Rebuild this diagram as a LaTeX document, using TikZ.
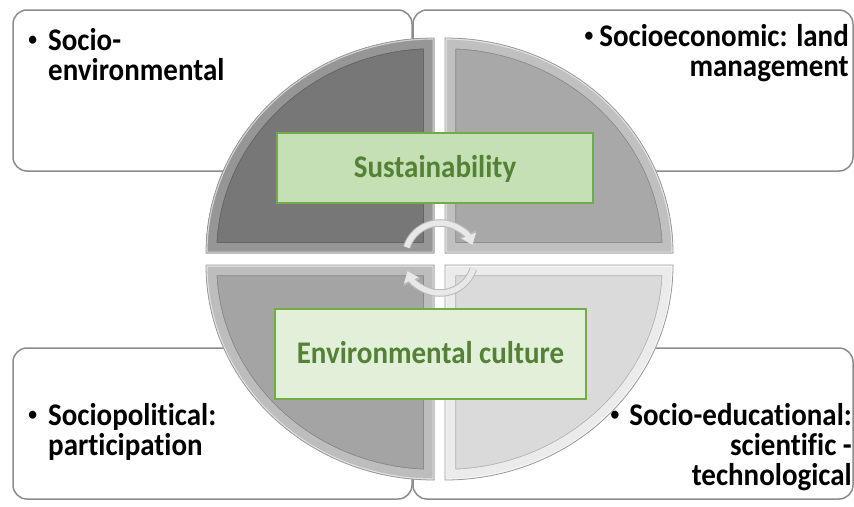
\documentclass[tikz,border=0pt]{standalone}
\usepackage{fontspec}
\setmainfont{Carlito}[FakeStretch=0.92, Ligatures=NoCommon]
\usetikzlibrary{arrows.meta}
\definecolor{boxline}{HTML}{8C8C8C}
\definecolor{grnline}{HTML}{70AD47}
\definecolor{grntext}{HTML}{538135}
\definecolor{grnA}{HTML}{C5E0B4}
\definecolor{grnB}{HTML}{E2F0D9}
\definecolor{qTL}{HTML}{777777}
\definecolor{qTLb}{HTML}{969696}
\definecolor{qTR}{HTML}{A8A8A8}
\definecolor{qTRb}{HTML}{C0C0C0}
\definecolor{qBL}{HTML}{A4A4A4}
\definecolor{qBLb}{HTML}{BDBDBD}
\definecolor{qBR}{HTML}{DADADA}
\definecolor{qBRb}{HTML}{EBEBEB}
\tikzset{
  sidebox/.style={draw=boxline, line width=1.5pt, rounded corners=14pt, fill=white},
  greenbox/.style={draw=grnline, line width=2.5pt, inner sep=0pt, text=grntext,
    font=\fontsize{31.5}{30}\selectfont\bfseries, text height=18pt, text depth=0pt},
  itemtext/.style={inner sep=0pt, font=\fontsize{31.5}{30}\selectfont\bfseries, text=black},
  cyclearrow/.style={line width=5.5pt, draw=gray!18, -{Triangle[length=10pt,width=15pt]},
    preaction={draw=gray!55, line width=7.5pt, -{Triangle[length=12pt,width=18pt]}}}
}
\newcommand{\quadrant}[3]{%
  \begin{scope}
    \fill[#2] #1;
    \clip #1;
    \draw[line width=22pt, #2!80!black] #1;
    \draw[line width=20.5pt, #3] #1;
    \draw[line width=3pt, white!60!#3] #1;
  \end{scope}
  \draw[line width=0.8pt, gray!80] #1;
}
\newcommand{\bul}{\raisebox{5pt}{\fontsize{19}{19}\selectfont•}}
\begin{document}
\begin{tikzpicture}[x=1pt, y=1pt]
\fill[white] (0,0) rectangle (854,-506);
\useasboundingbox (0,0) rectangle (854,-506);
\begin{scope}
\clip (0,0) rectangle (854,-506);
% side boxes
\draw[sidebox] (13,-10) rectangle (412,-171);
\draw[sidebox] (413,-10) rectangle (853,-171);
\draw[sidebox] (13,-348) rectangle (412,-499);
\draw[sidebox] (413,-348) rectangle (853,-499);
% circle quadrants
\quadrant{(434,-253) -- (206,-253) arc[start angle=180, end angle=90, x radius=228, y radius=215] -- cycle}{qTL}{qTLb}
\quadrant{(445,-253) -- (445,-38) arc[start angle=90, end angle=0, x radius=228, y radius=215] -- cycle}{qTR}{qTRb}
\quadrant{(434,-265) -- (206,-265) arc[start angle=180, end angle=270, x radius=228, y radius=215] -- cycle}{qBL}{qBLb}
\quadrant{(445,-265) -- (673,-265) arc[start angle=0, end angle=-90, x radius=228, y radius=215] -- cycle}{qBR}{qBRb}
% green boxes
\node[greenbox, fill=grnA, minimum width=316pt, minimum height=70pt] (sus) at (435,-168) {Sustainability};
\node[greenbox, fill=grnB, minimum width=311pt, minimum height=90pt] (env) at (430.5,-354) {Environmental culture};
% cycle arrows
\coordinate (cyc) at (440,-258);
\draw[cyclearrow] ([shift={(162:35)}]cyc) arc[start angle=162, end angle=22, radius=35];
\draw[cyclearrow] ([shift={(-18:35)}]cyc) arc[start angle=-18, end angle=-158, radius=35];
% texts
\node[itemtext, anchor=base west] (tltext) at (48,-50)
  {\vtop{\halign{#\hfil\cr\llap{\bul\hspace{11pt}}Socio-\cr environmental\cr}}};
\node[itemtext, anchor=base east] (trtext) at (849,-46)
  {\vtop{\halign{\hfil#\cr \bul\hspace{6pt}Socioeconomic: land\cr management\cr}}};
\node[itemtext, anchor=base west] (bltext) at (48,-425)
  {\vtop{\halign{#\hfil\cr\llap{\bul\hspace{11pt}}Sociopolitical:\cr participation\cr}}};
\node[itemtext, anchor=base east] (brtext) at (852,-425)
  {\vtop{\halign{\hfil#\cr \bul\hspace{10pt}Socio-educational:\cr scientific -\cr technological\cr}}};
\end{scope}
\end{tikzpicture}
\end{document}
